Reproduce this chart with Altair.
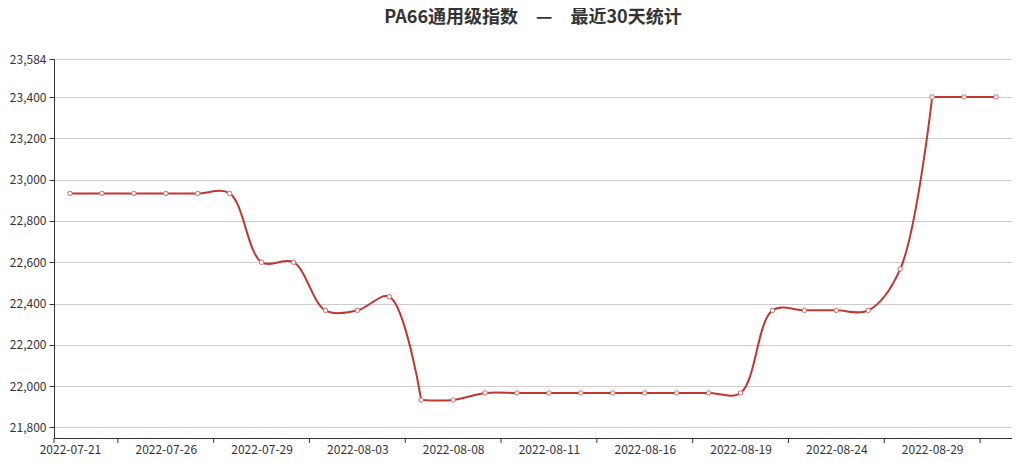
import altair as alt
import pandas as pd

dates = [
    "2022-07-21", "2022-07-22", "2022-07-25", "2022-07-26", "2022-07-27", "2022-07-28",
    "2022-07-29", "2022-08-01", "2022-08-02", "2022-08-03", "2022-08-04", "2022-08-05",
    "2022-08-08", "2022-08-09", "2022-08-10", "2022-08-11", "2022-08-12", "2022-08-15",
    "2022-08-16", "2022-08-17", "2022-08-18", "2022-08-19", "2022-08-22", "2022-08-23",
    "2022-08-24", "2022-08-25", "2022-08-26", "2022-08-29", "2022-08-30", "2022-08-31",
]
values = [
    22933, 22933, 22933, 22933, 22933, 22933,
    22600, 22600, 22367, 22367, 22433, 21933,
    21933, 21967, 21967, 21967, 21967, 21967,
    21967, 21967, 21967, 21967, 22367, 22367,
    22367, 22367, 22567, 23400, 23400, 23400,
]
label_idx = [0, 3, 6, 9, 12, 15, 18, 21, 24, 27]
tick_pos = [-0.5, 1.5, 4.5, 7.5, 10.5, 13.5, 16.5, 19.5, 22.5, 25.5, 28.5]
y_ticks = [21800, 22000, 22200, 22400, 22600, 22800, 23000, 23200, 23400, 23584]
y_domain = [21749, 23584]

W, H = 958, 379
FONT = "Noto Sans CJK SC"
RED = "#c23531"

n = len(dates)
df = pd.DataFrame({"i": list(range(n)), "date": dates, "v": values})

# smoothing is clamped at the series' overall min / max (as in the source chart):
# split the curve where it reaches those extremes
vmin, vmax = min(values), max(values)
breaks = [0]
for k in range(1, n - 1):
    if (values[k] == vmin and values[k - 1] != vmin) or (values[k] == vmax and values[k - 1] != vmax):
        breaks.append(k)
breaks.append(n - 1)
rows = []
for s in range(len(breaks) - 1):
    for k in range(breaks[s], breaks[s + 1] + 1):
        rows.append({"i": k, "v": values[k], "seg": s})
seg_df = pd.DataFrame(rows)

ticks_df = pd.DataFrame({"t": tick_pos})

label_arr = "[" + ",".join("'%s'" % d for d in dates) + "]"

x_scale = alt.Scale(domain=[-0.5, n - 0.5], nice=False, zero=False)
y_scale = alt.Scale(domain=y_domain, nice=False, zero=False)

x_axis = alt.Axis(
    values=label_idx, labelExpr=label_arr + "[datum.value]", title=None,
    ticks=False, grid=False, domainColor="#333", labelColor="#333",
    labelFont=FONT, labelFontSize=12, labelPadding=6, labelAngle=0,
)
y_axis = alt.Axis(
    values=y_ticks, format=",d", title=None, grid=True, gridColor="#cccccc",
    domainColor="#333", tickColor="#333", tickSize=5, labelColor="#333",
    labelFont=FONT, labelFontSize=12, labelPadding=3,
)

line = alt.Chart(seg_df).mark_line(
    color=RED, strokeWidth=2, interpolate="catmull-rom"
).encode(
    x=alt.X("i:Q", scale=x_scale, axis=x_axis),
    y=alt.Y("v:Q", scale=y_scale, axis=y_axis),
    detail="seg:N",
    order="i:Q",
)

points = alt.Chart(df).mark_point(
    shape="circle", filled=True, fill="white", stroke="#d26a66", strokeWidth=1,
    size=20, opacity=1,
).encode(
    x=alt.X("i:Q", scale=x_scale, axis=x_axis),
    y=alt.Y("v:Q", scale=y_scale, axis=y_axis),
)

tick_rules = alt.Chart(ticks_df).mark_rule(color="#333", strokeWidth=1).encode(
    x=alt.X("t:Q", scale=x_scale, axis=x_axis),
    y=alt.value(H),
    y2=alt.value(H + 5),
)

chart = alt.layer(line, points, tick_rules).properties(
    width=W,
    height=H,
    title=alt.TitleParams(
        text="PA66通用级指数\u3000—\u3000最近30天统计",
        font=FONT, fontSize=18, fontWeight="bold", color="#333",
        anchor="middle", frame="group", offset=26,
    ),
    autosize=alt.AutoSizeParams(type="none"),
    padding={"left": 46, "top": 51, "right": 0, "bottom": 22},
).configure_view(stroke=None)

chart.save("out.html", embed_options={"renderer": "svg", "actions": False})
